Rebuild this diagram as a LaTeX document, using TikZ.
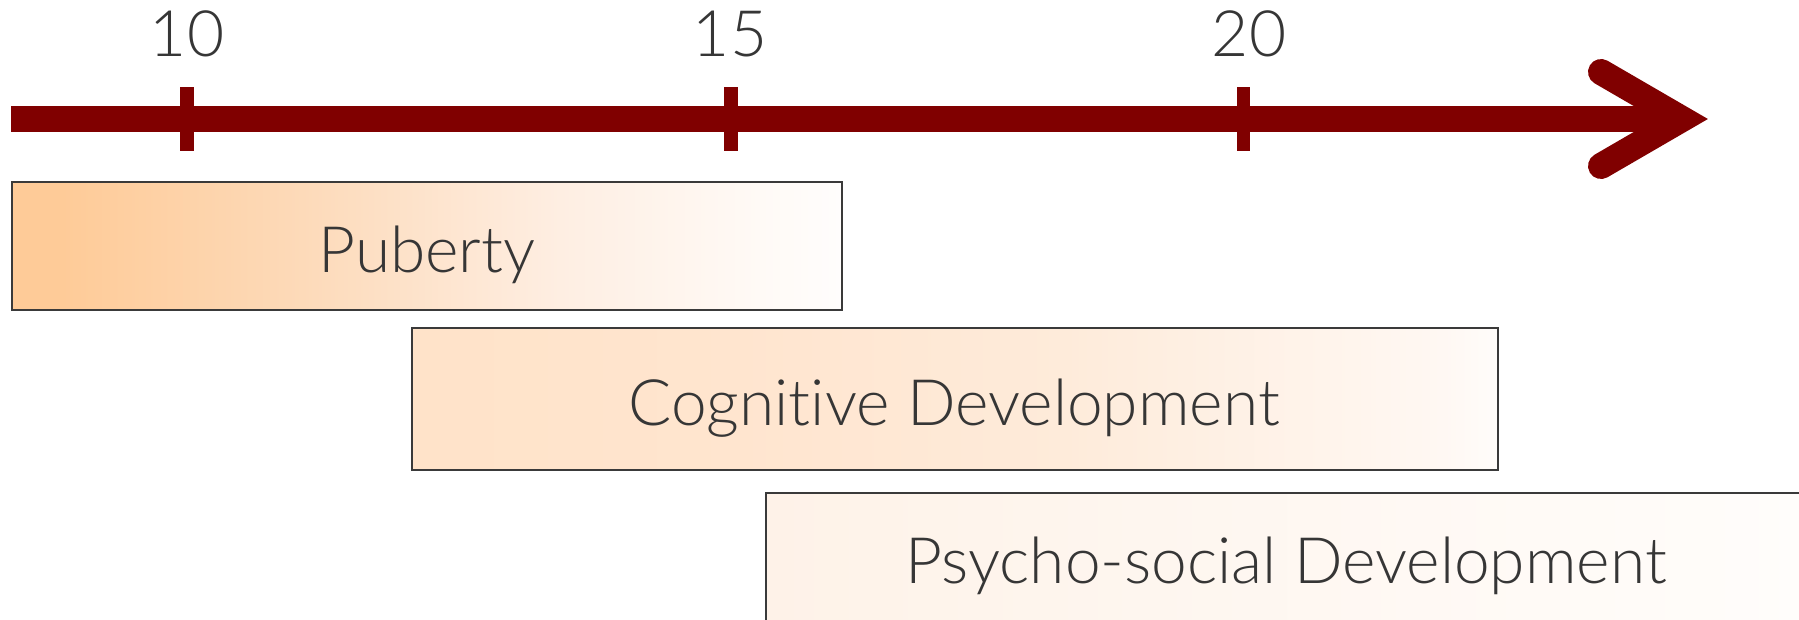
\documentclass[tikz,border=0pt]{standalone}
\usepackage{fontspec}
\setmainfont{Lato Light}[Ligatures=NoCommon]

\definecolor{axisred}{HTML}{800000}
\definecolor{ink}{HTML}{363636}
\definecolor{edge}{HTML}{3A3A3A}
% puberty bar
\definecolor{pubA}{HTML}{FECB98}
\definecolor{pubB}{HTML}{FDDAB9}
\definecolor{pubC}{HTML}{FEEEE2}
\definecolor{pubD}{HTML}{FFFAF6}
\definecolor{pubE}{HTML}{FFFDFC}
% cognitive bar
\definecolor{cogA}{HTML}{FFE3C9}
\definecolor{cogB}{HTML}{FFE5CF}
\definecolor{cogC}{HTML}{FEEBDA}
\definecolor{cogD}{HTML}{FFF8F3}
\definecolor{cogE}{HTML}{FFFCFA}
% psycho-social bar
\definecolor{psyA}{HTML}{FEF2E8}
\definecolor{psyB}{HTML}{FFFDFB}

% the bar occupies 25bp..75bp of each 100bp shading
\pgfdeclarehorizontalshading{pubshade}{100bp}{color(0bp)=(pubA); color(28bp)=(pubA); color(42.5bp)=(pubB); color(58bp)=(pubC); color(70bp)=(pubD); color(75bp)=(pubE); color(100bp)=(pubE)}
\pgfdeclarehorizontalshading{cogshade}{100bp}{color(0bp)=(cogA); color(25bp)=(cogA); color(40bp)=(cogB); color(55bp)=(cogC); color(72.5bp)=(cogD); color(75bp)=(cogE); color(100bp)=(cogE)}
\pgfdeclarehorizontalshading{psyshade}{100bp}{color(0bp)=(psyA); color(25bp)=(psyA); color(75bp)=(psyB); color(100bp)=(psyB)}

\tikzset{
  bar/.style={rectangle, draw=edge, line width=1pt, inner sep=0pt},
  tickmark/.style={rectangle, fill=axisred, inner sep=0pt, minimum width=6.75pt, minimum height=32pt},
  numlabel/.style={text=ink, font=\fontsize{32}{38}\selectfont, inner sep=0pt, anchor=base},
  barlabel/.style={text=ink, font=\fontsize{32}{38}\selectfont, inner sep=0pt, anchor=base},
  axisline/.style={draw=axisred, line width=13pt},
}

\begin{document}
\begin{tikzpicture}[x=0.5pt, y=-0.5pt]
\useasboundingbox (0,0) rectangle (1799,620);
\clip (0,0) rectangle (1799,620);

% age axis
\coordinate (axisstart) at (11,119);
\coordinate (axisend) at (1682,119);
\coordinate (wingtop) at (1601,72);
\coordinate (wingbot) at (1601,166);
\draw[axisline] (axisstart) -- (axisend);
\draw[axisline, line cap=round, line join=miter] (wingtop) -- (axisend) -- (wingbot);

% ticks and ages
\node[tickmark] (t10) at (187,119) {};
\node[tickmark] (t15) at (731,119) {};
\node[tickmark] (t20) at (1243.5,119) {};
\node[numlabel] (a10) at (187,57) {10};
\node[numlabel] (a15) at (730,57) {15};
\node[numlabel] (a20) at (1249,57) {20};

% developmental periods
\node[bar, shading=pubshade, minimum width=415pt, minimum height=64pt] (pub) at (427,246.5) {};
\node[bar, shading=cogshade, minimum width=543pt, minimum height=71pt] (cog) at (955,399) {};
\node[bar, shading=psyshade, minimum width=520pt, minimum height=67pt] (psy) at (1286,560) {};

\node[barlabel] (publbl) at (427,272) {Puberty};
\node[barlabel] (coglbl) at (954,425) {Cognitive Development};
\node[barlabel] (psylbl) at (1286,583) {Psycho-social Development};
\end{tikzpicture}
\end{document}
